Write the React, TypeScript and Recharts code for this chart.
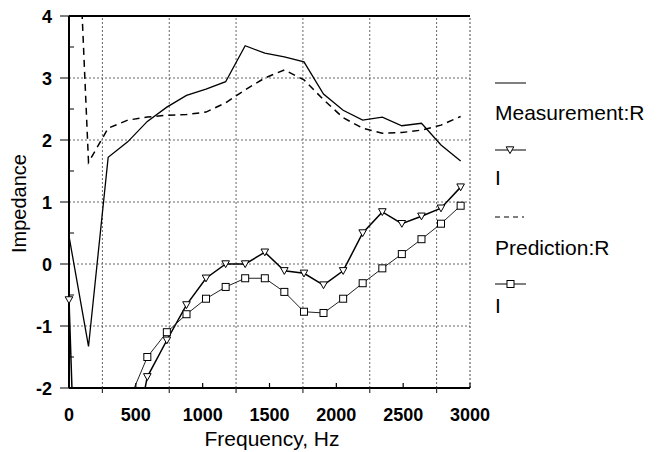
import React from 'react';
import { LineChart, Line, XAxis, YAxis, ReferenceLine } from 'recharts';

const frequencies = [0, 146, 293, 439, 586, 732, 879, 1025, 1172, 1318, 1465, 1611, 1758, 1904, 2051, 2197, 2344, 2490, 2637, 2783, 2930];
const measurementR = [0.45, -1.33, 1.72, 1.97, 2.3, 2.53, 2.72, 2.82, 2.94, 3.52, 3.4, 3.34, 3.26, 2.74, 2.48, 2.32, 2.37, 2.23, 2.27, 1.92, 1.66];
const predictionR = [8.9, 1.64, 2.19, 2.32, 2.37, 2.4, 2.41, 2.45, 2.6, 2.81, 3.0, 3.13, 2.97, 2.65, 2.36, 2.19, 2.11, 2.12, 2.16, 2.24, 2.38];
const measurementI = [-0.58, -10, null, -3.4, -1.82, -1.23, -0.66, -0.23, 0.0, 0.0, 0.19, -0.11, -0.15, -0.34, -0.11, 0.5, 0.84, 0.65, 0.77, 0.9, 1.24];
const predictionI = [null, null, null, -2.25, -1.5, -1.1, -0.81, -0.56, -0.37, -0.23, -0.23, -0.45, -0.77, -0.79, -0.56, -0.31, -0.07, 0.16, 0.4, 0.65, 0.94];

const xLabelTicks = [0, 500, 1000, 1500, 2000, 2500, 3000];
const xGridValues = [250, 750, 1250, 1750, 2250, 2750];
const yLabelTicks = [-2, -1, 0, 1, 2, 3, 4];
const yMinorTicks = [-1.5, -0.5, 0.5, 1.5, 2.5, 3.5];
const yGridValues = [-1, 0, 1, 2, 3];
const Y_DOMAIN: [number, number] = [-2, 4];
const X_DOMAIN: [number, number] = [0, 3000];

const legendLabels = ['Measurement:R', 'I', 'Prediction:R', 'I'];

const data = frequencies.map((f, i) => ({
  f,
  measR: measurementR[i],
  predR: predictionR[i],
  measI: measurementI[i],
  predI: predictionI[i],
}));

const FONT = '"Liberation Sans", Arial, Helvetica, sans-serif';

const triPath = (cx: number, cy: number) => `M${cx - 3.8},${cy - 3.2} L${cx + 3.8},${cy - 3.2} L${cx},${cy + 3.6} Z`;

const visible = (v: any) => v != null && v >= Y_DOMAIN[0] && v <= Y_DOMAIN[1];

const TriDot = (p: any) => {
  const { cx, cy, value, index } = p;
  if (!visible(value) || cx == null || cy == null || isNaN(cy)) return <g key={`t${index}`} />;
  return <path key={`t${index}`} d={triPath(cx, cy)} fill="#fff" stroke="#000" strokeWidth={1} />;
};

const SqDot = (p: any) => {
  const { cx, cy, value, index } = p;
  if (!visible(value) || cx == null || cy == null || isNaN(cy)) return <g key={`s${index}`} />;
  return <rect key={`s${index}`} x={cx - 3.5} y={cy - 3.5} width={7} height={7} fill="#fff" stroke="#000" strokeWidth={1} />;
};

const YTick = (p: any) => {
  const { x, y, payload } = p;
  const v = payload.value;
  const isMajor = Number.isInteger(v);
  return (
    <g>
      {isMajor ? (
        <line x1={x - 9} x2={x} y1={y} y2={y} stroke="#000" strokeWidth={1} />
      ) : (
        <line x1={x} x2={x + 5} y1={y} y2={y} stroke="#000" strokeWidth={1} />
      )}
      {isMajor && (
        <text x={x - 17} y={y + 6.5} textAnchor="end" fontFamily={FONT} fontWeight="bold" fontSize={18} fill="#000">
          {v}
        </text>
      )}
    </g>
  );
};

const XTick = (p: any) => {
  const { x, y, payload } = p;
  const v = payload.value;
  const isLabel = v % 500 === 0;
  return (
    <g>
      {isLabel ? (
        <line x1={x} x2={x} y1={y} y2={y - 5} stroke="#000" strokeWidth={1.2} />
      ) : (
        <line x1={x} x2={x} y1={y} y2={y + 5} stroke="#333" strokeWidth={1.2} />
      )}
      {isLabel && (
        <text x={x} y={y + 33} textAnchor="middle" fontFamily={FONT} fontWeight="bold" fontSize={18} fill="#000">
          {v}
        </text>
      )}
    </g>
  );
};

const allXTicks = [...xLabelTicks, ...xGridValues].sort((a, b) => a - b);
const allYTicks = [...yLabelTicks, ...yMinorTicks].sort((a, b) => a - b);

export default function App() {
  const legendX = 495;
  return (
    <div style={{ position: 'absolute', left: 0, top: 0, width: 659, height: 452, background: '#fff' }}>
      <LineChart width={659} height={452} data={data} margin={{ top: 16, right: 189, bottom: 24, left: 29 }}>
        <XAxis
          dataKey="f"
          type="number"
          domain={X_DOMAIN}
          ticks={allXTicks}
          interval={0}
          height={40}
          tickSize={0}
          tickMargin={0}
          tickLine={false}
          tick={XTick}
          axisLine={{ stroke: '#000', strokeWidth: 2 }}
        />
        <YAxis
          type="number"
          domain={Y_DOMAIN}
          allowDataOverflow
          ticks={allYTicks}
          interval={0}
          width={40}
          tickSize={0}
          tickMargin={0}
          tickLine={false}
          tick={YTick}
          axisLine={{ stroke: '#000', strokeWidth: 2 }}
        />
        {yGridValues.map((v) => (
          <ReferenceLine key={`gy${v}`} y={v} stroke="#666" strokeWidth={1} strokeDasharray="2 2" />
        ))}
        {xGridValues.map((v) => (
          <ReferenceLine key={`gx${v}`} x={v} stroke="#666" strokeWidth={1} strokeDasharray="2 2" />
        ))}
        <ReferenceLine y={Y_DOMAIN[1]} stroke="#000" strokeWidth={2} />
        <ReferenceLine y={Y_DOMAIN[0]} stroke="#000" strokeWidth={2} />
        <ReferenceLine x={X_DOMAIN[1]} stroke="#444" strokeWidth={1} strokeDasharray="2 2" />
        <Line type="linear" dataKey="measR" stroke="#000" strokeWidth={1.3} dot={false} isAnimationActive={false} />
        <Line type="linear" dataKey="predR" stroke="#000" strokeWidth={1.5} strokeDasharray="7 5" dot={false} isAnimationActive={false} />
        <Line type="linear" dataKey="measI" stroke="#000" strokeWidth={1.5} dot={TriDot} activeDot={false} isAnimationActive={false} />
        <Line type="linear" dataKey="predI" stroke="#222" strokeWidth={1} dot={SqDot} activeDot={false} isAnimationActive={false} />
      </LineChart>
      <svg width={659} height={452} style={{ position: 'absolute', left: 0, top: 0, pointerEvents: 'none' }}>
        <g fontFamily={FONT} fill="#000">
          <line x1={legendX} x2={legendX + 31} y1={83} y2={83} stroke="#000" strokeWidth={1} />
          <text x={legendX} y={120} fontSize={21}>{legendLabels[0]}</text>
          <line x1={legendX} x2={legendX + 31} y1={150} y2={150} stroke="#000" strokeWidth={1} />
          <path d={triPath(legendX + 15, 150)} fill="#fff" stroke="#000" strokeWidth={1} />
          <text x={legendX} y={185} fontSize={21}>{legendLabels[1]}</text>
          <line x1={legendX} x2={legendX + 29} y1={217} y2={217} stroke="#000" strokeWidth={1} strokeDasharray="5 4" />
          <text x={legendX} y={255} fontSize={21}>{legendLabels[2]}</text>
          <line x1={legendX} x2={legendX + 31} y1={284} y2={284} stroke="#000" strokeWidth={1} />
          <rect x={legendX + 12} y={280.5} width={7} height={7} fill="#fff" stroke="#000" strokeWidth={1} />
          <text x={legendX} y={313} fontSize={21}>{legendLabels[3]}</text>
          <text x={272} y={446} textAnchor="middle" fontSize={21}>Frequency, Hz</text>
          <text x={26} y={203.5} textAnchor="middle" fontSize={20} transform="rotate(-90 26 203.5)">Impedance</text>
        </g>
      </svg>
    </div>
  );
}
